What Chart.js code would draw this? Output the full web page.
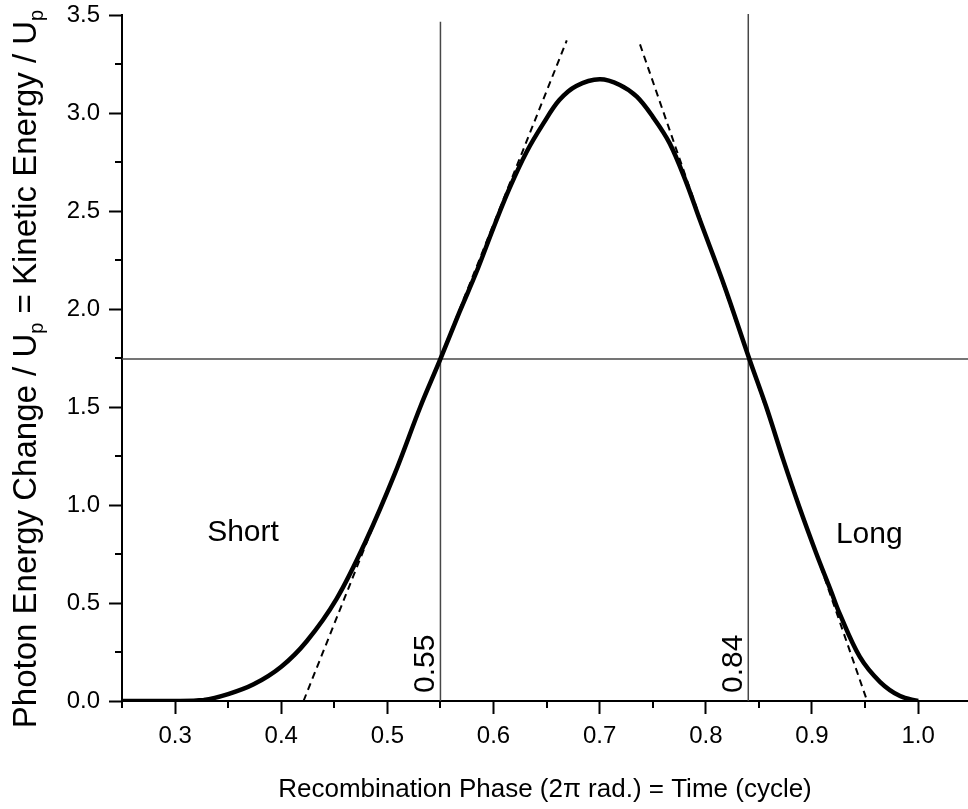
<!DOCTYPE html>
<html>
<head>
<meta charset="utf-8">
<script src="https://cdn.jsdelivr.net/npm/chart.js@4"></script>
<style>
    html, body { margin: 0; padding: 0; background: #fff; }
    canvas { display: block; }
</style>
</head>
<body>
<canvas id="chart" width="968" height="809"></canvas>
<script>
// recombination phase (cycle) vs energy / Up
const phase = [0.25, 0.30, 0.327, 0.35, 0.374, 0.40, 0.424, 0.452, 0.480, 0.507, 0.531, 0.55,
    0.568, 0.584, 0.600, 0.615, 0.631, 0.647, 0.662, 0.678, 0.700, 0.719, 0.735, 0.750,
    0.766, 0.782, 0.794, 0.818, 0.841, 0.857, 0.873, 0.888, 0.904, 0.918, 0.926, 0.945,
    0.964, 0.983, 1.0];
const energy = [0, 0, 0.005, 0.035, 0.085, 0.175, 0.305, 0.52, 0.82, 1.16, 1.50, 1.745,
    1.985, 2.19, 2.415, 2.615, 2.80, 2.947, 3.066, 3.138, 3.172, 3.143, 3.083, 2.981,
    2.845, 2.64, 2.46, 2.11, 1.745, 1.50, 1.23, 0.991, 0.754, 0.56, 0.447, 0.226,
    0.098, 0.025, 0];

// dashed tangents at the two crossing points
const shortTangentX = [0.421, 0.669];
const shortTangentY = [0, 3.37];
const longTangentX = [0.738, 0.952];
const longTangentY = [3.35, 0];

// marker lines
const markerPhases = [0.55, 0.84];
const markerTops = [3.465, 3.505];
const crossLevel = [1.745];

// text annotations
const noteTexts = ["Short", "Long"];
const noteX = [0.364, 0.954];
const noteY = [0.857, 0.847];

// axis ticks
const xTicks = [0.25, 0.3, 0.35, 0.4, 0.45, 0.5, 0.55, 0.6, 0.65, 0.7, 0.75, 0.8, 0.85, 0.9, 0.95, 1.0];
const yTicks = [0, 0.25, 0.5, 0.75, 1.0, 1.25, 1.5, 1.75, 2.0, 2.25, 2.5, 2.75, 3.0, 3.25, 3.5];
const X_MIN = 0.25, X_MAX = 1.047;

const FONT = "'Liberation Sans', Arial, sans-serif";
const LINE_GREY = "#474747";

function isMajor(v, step) {
    const r = v / step;
    return Math.abs(r - Math.round(r)) < 1e-6;
}

function zip(xs, ys) {
    return xs.map((x, i) => ({ x, y: ys[i] }));
}

// short minor ticks, chart.js only draws the long ones
const minorTicks = {
    id: "minorTicks",
    afterDraw(chart) {
        const { ctx, scales: { x, y } } = chart;
        ctx.save();
        ctx.strokeStyle = "#000";
        ctx.lineWidth = 2;
        ctx.beginPath();
        xTicks.filter(v => !isMajor(v, 0.1)).forEach(v => {
            const px = Math.round(x.getPixelForValue(v));
            ctx.moveTo(px, x.top);
            ctx.lineTo(px, x.top + 7);
        });
        yTicks.filter(v => !isMajor(v, 0.5)).forEach(v => {
            const py = Math.round(y.getPixelForValue(v));
            ctx.moveTo(y.right, py);
            ctx.lineTo(y.right - 7, py);
        });
        ctx.stroke();
        ctx.restore();
    }
};

const notes = {
    id: "notes",
    afterDatasetsDraw(chart) {
        const { ctx, scales: { x, y } } = chart;
        ctx.save();
        ctx.fillStyle = "#000";
        ctx.font = "30px " + FONT;
        ctx.textAlign = "center";
        ctx.textBaseline = "middle";
        noteTexts.forEach((t, i) => {
            ctx.fillText(t, x.getPixelForValue(noteX[i]), y.getPixelForValue(noteY[i]));
        });
        // phase labels written up along the marker lines
        ctx.textAlign = "left";
        ctx.textBaseline = "alphabetic";
        markerPhases.forEach(p => {
            ctx.save();
            ctx.translate(x.getPixelForValue(p) - 6, y.getPixelForValue(0) - 8);
            ctx.rotate(-Math.PI / 2);
            ctx.fillText(p.toFixed(2), 0, 0);
            ctx.restore();
        });
        ctx.restore();
    }
};

// y title with subscript p
const yTitle = {
    id: "yTitle",
    afterDraw(chart) {
        const { ctx } = chart;
        const parts = [
            ["Photon Energy Change / U", false],
            ["p", true],
            [" = Kinetic Energy / U", false],
            ["p", true]
        ];
        const big = "33px " + FONT;
        const small = "20px " + FONT;
        ctx.save();
        let total = 0;
        parts.forEach(([t, sub]) => {
            ctx.font = sub ? small : big;
            total += ctx.measureText(t).width;
        });
        ctx.translate(36, 369 + total / 2);
        ctx.rotate(-Math.PI / 2);
        ctx.fillStyle = "#000";
        ctx.textBaseline = "alphabetic";
        let pos = 0;
        parts.forEach(([t, sub]) => {
            ctx.font = sub ? small : big;
            ctx.fillText(t, pos, sub ? 7 : 0);
            pos += ctx.measureText(t).width;
        });
        ctx.restore();
    }
};

const ctx = document.getElementById("chart");

new Chart(ctx, {
    type: "line",
    data: {
        datasets: [
            {
                label: "energy",
                data: zip(phase, energy),
                borderColor: "#000",
                borderWidth: 4.5,
                pointRadius: 0,
                tension: 0.35
            },
            {
                label: "short tangent",
                data: zip(shortTangentX, shortTangentY),
                borderColor: "#000",
                borderWidth: 2,
                borderDash: [7, 5],
                pointRadius: 0
            },
            {
                label: "long tangent",
                data: zip(longTangentX, longTangentY),
                borderColor: "#000",
                borderWidth: 2,
                borderDash: [7, 5],
                pointRadius: 0
            },
            ...markerPhases.map((p, i) => ({
                label: "marker " + p,
                data: [{ x: p, y: 0 }, { x: p, y: markerTops[i] }],
                borderColor: LINE_GREY,
                borderWidth: 1.5,
                pointRadius: 0,
                clip: false
            })),
            {
                label: "cross level",
                data: [{ x: X_MIN, y: crossLevel[0] }, { x: X_MAX, y: crossLevel[0] }],
                borderColor: LINE_GREY,
                borderWidth: 1.5,
                pointRadius: 0
            }
        ]
    },
    options: {
        responsive: false,
        animation: false,
        devicePixelRatio: 1,
        layout: { padding: { top: 15, right: 0, left: 0, bottom: 0 } },
        plugins: {
            legend: { display: false },
            tooltip: { enabled: false }
        },
        scales: {
            x: {
                type: "linear",
                min: X_MIN,
                max: X_MAX,
                afterBuildTicks: scale => { scale.ticks = xTicks.map(v => ({ value: v })); },
                afterFit: scale => {
                    scale.height = 108;
                    scale.paddingLeft = 0;
                    scale.paddingRight = 0;
                },
                border: { display: true, color: "#000", width: 2 },
                grid: {
                    drawOnChartArea: false,
                    tickLength: 13,
                    tickWidth: 2,
                    tickColor: c => (c.tick && isMajor(c.tick.value, 0.1)) ? "#000" : "rgba(0,0,0,0)"
                },
                ticks: {
                    color: "#000",
                    padding: 8,
                    maxRotation: 0,
                    autoSkip: false,
                    font: { family: FONT, size: 24 },
                    callback: v => isMajor(v, 0.1) ? v.toFixed(1) : ""
                },
                title: {
                    display: true,
                    text: "Recombination Phase (2\u03c0 rad.) = Time (cycle)",
                    color: "#000",
                    font: { family: FONT, size: 26 },
                    padding: { top: 0, bottom: 4 }
                }
            },
            y: {
                min: 0,
                max: 3.5,
                afterBuildTicks: scale => { scale.ticks = yTicks.map(v => ({ value: v })); },
                afterFit: scale => {
                    scale.width = 122;
                    scale.paddingTop = 0;
                    scale.paddingBottom = 0;
                },
                border: { display: true, color: "#000", width: 2 },
                grid: {
                    drawOnChartArea: false,
                    tickLength: 13,
                    tickWidth: 2,
                    tickColor: c => (c.tick && isMajor(c.tick.value, 0.5)) ? "#000" : "rgba(0,0,0,0)"
                },
                ticks: {
                    color: "#000",
                    padding: 9,
                    autoSkip: false,
                    font: { family: FONT, size: 24 },
                    callback: v => isMajor(v, 0.5) ? v.toFixed(1) : ""
                }
            }
        }
    },
    plugins: [minorTicks, notes, yTitle]
});
</script>
</body>
</html>
